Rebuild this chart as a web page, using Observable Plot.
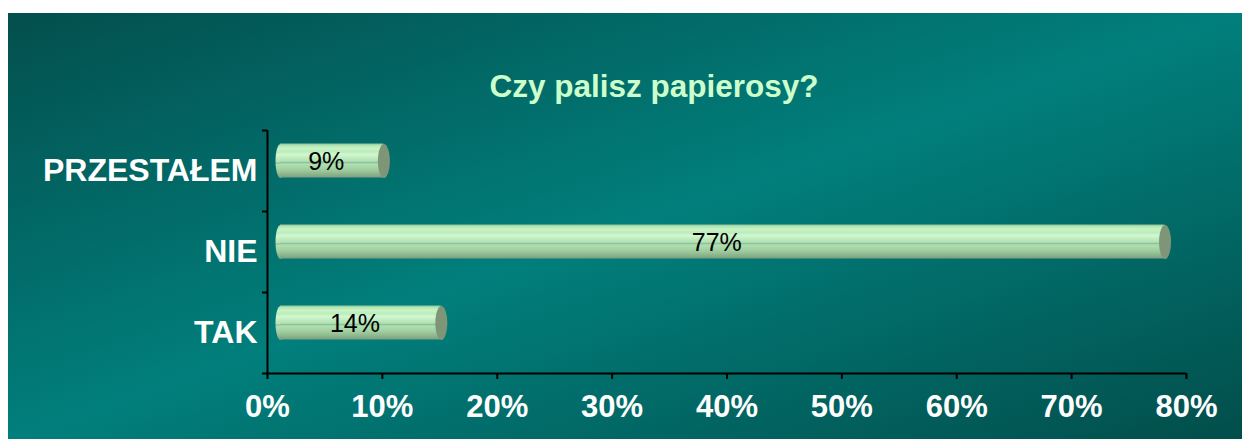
<!DOCTYPE html>
<html>
<head>
<meta charset="utf-8">
<script src="https://cdn.jsdelivr.net/npm/d3@7"></script>
<script src="https://cdn.jsdelivr.net/npm/@observablehq/plot@0.6"></script>
<style>
  html, body { margin: 0; padding: 0; background: #ffffff; width: 1242px; height: 439px; overflow: hidden; }
  #panel {
    position: absolute; left: 8px; top: 13px; width: 1234px; height: 426px;
    background: linear-gradient(to bottom right, #034f4d 0%, #017f7c 50%, #024e4b 100%);
    font-family: "Liberation Sans", Arial, sans-serif;
  }
  #titlebox { position: relative; height: 107px; }
  #title {
    position: absolute; left: 646px; top: 58px; transform: translateX(-50%);
    font-size: 31.5px; line-height: 31px; font-weight: bold; color: #ccffcc; white-space: nowrap;
  }
  #chart svg { display: block; }
</style>
</head>
<body>
<div id="panel">
  <div id="titlebox"><div id="title">Czy palisz papierosy?</div></div>
  <div id="chart"></div>
</div>
<script>
const title = "Czy palisz papierosy?";
const categories = ["PRZESTAŁEM", "NIE", "TAK"];
const values = [9, 77, 14];
const valueLabels = ["9%", "77%", "14%"];
const xTicks = [0, 10, 20, 30, 40, 50, 60, 70, 80];
const xTickLabels = ["0%", "10%", "20%", "30%", "40%", "50%", "60%", "70%", "80%"];

const data = categories.map((c, i) => ({ category: c, index: i, value: values[i], label: valueLabels[i] }));

const font = "Liberation Sans, Arial, sans-serif";
const half = 0.21;      // half bar thickness in band units
const depthX = 13, depthY = -10; // 3D offset

// elliptical end symbol
function ellipseSymbol(rx, ry) {
  return {
    draw(ctx) {
      const k = 0.5523;
      ctx.moveTo(rx, 0);
      ctx.bezierCurveTo(rx, ry * k, rx * k, ry, 0, ry);
      ctx.bezierCurveTo(-rx * k, ry, -rx, ry * k, -rx, 0);
      ctx.bezierCurveTo(-rx, -ry * k, -rx * k, -ry, 0, -ry);
      ctx.bezierCurveTo(rx * k, -ry, rx, -ry * k, rx, 0);
      ctx.closePath();
    }
  };
}

const svg = Plot.plot({
  width: 1234,
  height: 319,
  marginLeft: 259,
  marginRight: 56,
  marginTop: 10,
  marginBottom: 66,
  style: { background: "transparent", fontFamily: font, overflow: "visible" },
  x: { domain: [0, 80], label: null, axis: null },
  y: { domain: [0, categories.length], reverse: true, label: null, axis: null },
  marks: [
    // rounded left ends of the cylinders
    Plot.dot(data, {
      x: 0, y: d => d.index + 0.5, symbol: ellipseSymbol(5, 17), r: 3,
      fill: "url(#cyl)", stroke: "none", dx: depthX, dy: depthY
    }),
    // cylinder bodies
    Plot.rect(data, {
      x1: 0, x2: "value",
      y1: d => d.index + 0.5 - half, y2: d => d.index + 0.5 + half,
      fill: "url(#cyl)", dx: depthX, dy: depthY
    }),
    // end caps
    Plot.dot(data, {
      x: "value", y: d => d.index + 0.5, symbol: ellipseSymbol(6, 17), r: 3,
      fill: "#7e9577", stroke: "none", dx: depthX, dy: depthY
    }),
    // value labels
    Plot.text(data, {
      x: d => d.value / 2, y: d => d.index + 0.5, text: "label",
      fill: "black", fontSize: 25, fontFamily: font, dx: 7, dy: depthY + 1
    }),
    // axis lines
    Plot.ruleX([0], { stroke: "black", strokeWidth: 2 }),
    Plot.ruleY([categories.length], { stroke: "black", strokeWidth: 2 }),
    // y boundary ticks
    Plot.axisY({ ticks: d3.range(categories.length + 1), tickFormat: () => "", tickSize: 5, stroke: "black", strokeWidth: 2, anchor: "left" }),
    // y category labels
    Plot.axisY({ ticks: categories.map((c, i) => i + 0.5), tickFormat: t => categories[Math.floor(t)], tickSize: 0, tickPadding: 10, anchor: "left",
      fill: "white", fontSize: 32, fontWeight: "bold", fontFamily: font }),
    // x ticks
    Plot.axisX({ ticks: xTicks, tickFormat: () => "", tickSize: 6, stroke: "black", strokeWidth: 2, anchor: "bottom" }),
    // x labels
    Plot.axisX({ ticks: xTicks, tickFormat: t => xTickLabels[xTicks.indexOf(t)], tickSize: 0, tickPadding: 21, anchor: "bottom",
      fill: "white", fontSize: 31, fontWeight: "bold", fontFamily: font })
  ]
});

// gradient definition for the cylinder stripes
const defs = d3.select(svg).insert("defs", ":first-child");
const g = defs.append("linearGradient").attr("id", "cyl").attr("x1", 0).attr("y1", 0).attr("x2", 0).attr("y2", 1);
[
  [0, "#8cc49a"], [0.06, "#b4e6b6"], [0.14, "#c8f4c6"], [0.24, "#bcecbc"], [0.32, "#d2f8d0"],
  [0.42, "#c0ecc0"], [0.52, "#b2e2b2"], [0.56, "#8cc0a0"], [0.6, "#b0e0b0"], [0.7, "#a6d6a6"],
  [0.8, "#9cc89c"], [0.9, "#8cb48c"], [1, "#7a9e80"]
].forEach(([o, c]) => g.append("stop").attr("offset", o).attr("stop-color", c));

document.getElementById("chart").appendChild(svg);
</script>
</body>
</html>
